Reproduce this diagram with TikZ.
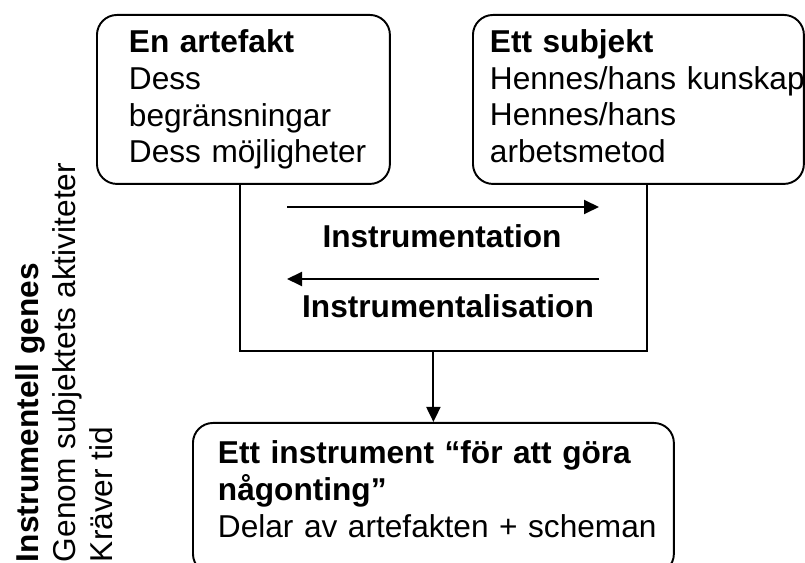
\documentclass[tikz,border=0pt]{standalone}
\usepackage{fontspec}
\setmainfont{Liberation Sans}
\usetikzlibrary{arrows.meta,positioning,calc}
\hyphenpenalty=10000

\begin{document}
\begin{tikzpicture}[
    x=0.02cm, y=-0.02cm,
    font=\fontsize{18pt}{21pt}\selectfont,
    >={Triangle[length=0.3cm,width=0.28cm]},
    line width=1.1pt,
    block/.style={
        rectangle, draw=black, rounded corners=0.4cm,
        align=left, anchor=north west,
        minimum height=3.38cm
    },
    label/.style={font=\fontsize{18pt}{21pt}\selectfont\bfseries, anchor=base, inner sep=0pt},
    arrow/.style={->},
]
  \useasboundingbox (0,0) rectangle (805,563);

  %––– Artefact and subject ––––––––––––––––––––––––––––––––
  \node (art) [block, minimum width=5.86cm, text width=4.58cm, inner xsep=0.64cm] at (96,14)
      {\textbf{En artefakt}\\Dess\\begränsningar\\\mbox{Dess möjligheter}};
  \node (sub) [block, minimum width=6.62cm, text width=5.94cm, inner xsep=0.34cm,
               text depth=2.35cm] at (472,14)
      {\textbf{Ett subjekt}\\\mbox{Hennes/hans kunskap}\\Hennes/hans\\arbetsmetod};

  %––– Genesis frame with the two processes ––––––––––––––––
  \coordinate (framecorner) at (647,351);
  \draw ([xshift=-0.07cm]art.south) |- (framecorner) -- (framecorner |- sub.south);

  \coordinate (instA) at (287,207);
  \coordinate (instB) at (599,207);
  \coordinate (talA) at (599,279);
  \coordinate (talB) at (287,279);
  \draw[arrow] (instA) -- (instB);
  \draw[arrow] (talA) -- (talB);
  \node (inst) [label] at (442,248) {Instrumentation};
  \node (tal) [label] at (448,318) {Instrumentalisation};

  %––– Resulting instrument ––––––––––––––––––––––––––––––––
  \node (instr) [block, minimum height=0cm, minimum width=9.62cm, text width=8.62cm,
                 inner xsep=0.5cm, inner ysep=0.36cm, text depth=1.84cm] at (192,422)
      {\textbf{Ett instrument “för att göra}\\\textbf{någonting”}\\\mbox{Delar av artefakten + scheman}};
  \draw[arrow] (instr.north |- framecorner) -- (instr.north);

  %––– Side note ––––––––––––––––––––––––––––––––––––––––––––
  \node (genes) [rotate=90, anchor=north west, align=left, inner sep=0pt] at (15,563)
      {\textbf{Instrumentell genes}\\Genom subjektets aktiviteter\\Kräver tid};
\end{tikzpicture}
\end{document}
